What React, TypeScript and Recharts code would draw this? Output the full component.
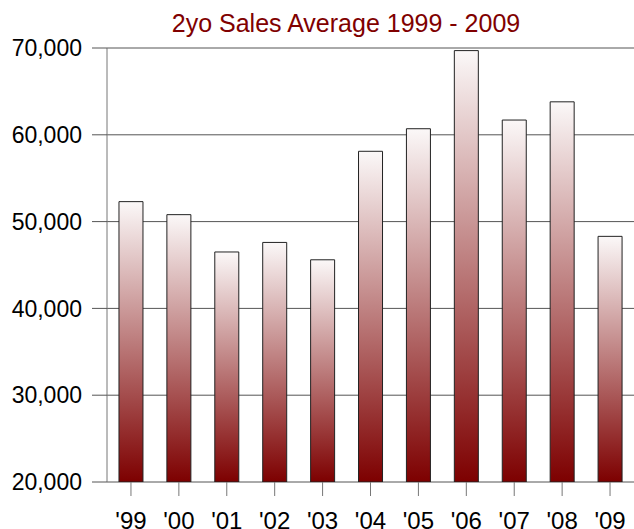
import { BarChart, Bar, XAxis, YAxis, CartesianGrid } from 'recharts';

const years = ["'99", "'00", "'01", "'02", "'03", "'04", "'05", "'06", "'07", "'08", "'09"];
const averages = [52300, 50800, 46500, 47600, 45600, 58100, 60700, 69700, 61700, 63800, 48300];
const yTicks = [20000, 30000, 40000, 50000, 60000, 70000];

const chartData = years.map((year, i) => ({ year, avg: averages[i] }));

const font = '"Liberation Sans", Arial, sans-serif';

export default function App() {
  return (
    <div style={{ position: 'absolute', left: 0, top: 0, width: 634, height: 529, background: '#fff', fontFamily: font }}>
      <div
        style={{
          position: 'absolute',
          top: 9,
          left: 346,
          transform: 'translateX(-50%)',
          whiteSpace: 'nowrap',
          fontSize: 25,
          color: '#800000',
        }}
      >
        2yo Sales Average 1999 - 2009
      </div>
      <BarChart
        width={634}
        height={529}
        data={chartData}
        margin={{ top: 48, right: 0, bottom: 0, left: 0 }}
        barCategoryGap="25%"
      >
        <defs>
          <linearGradient id="barFill" x1="0" y1="0" x2="0" y2="1">
            <stop offset="0%" stopColor="#fbf8f8" />
            <stop offset="100%" stopColor="#7d0000" />
          </linearGradient>
        </defs>
        <CartesianGrid vertical={false} stroke="#555" />
        <XAxis
          dataKey="year"
          height={47}
          axisLine={false}
          tickLine={{ stroke: '#777' }}
          tickSize={14}
          tickMargin={16}
          tick={{ fill: '#000', fontSize: 24, fontFamily: font }}
          interval={0}
        />
        <YAxis
          width={107}
          domain={[20000, 70000]}
          ticks={yTicks}
          allowDataOverflow
          axisLine={{ stroke: '#777' }}
          tickLine={{ stroke: '#555' }}
          tickSize={15}
          tickMargin={10}
          tick={{ fill: '#000', fontSize: 23, fontFamily: font }}
          tickFormatter={(v: number) => v.toLocaleString('en-US')}
        />
        <Bar dataKey="avg" fill="url(#barFill)" stroke="#222" strokeWidth={1} isAnimationActive={false} />
      </BarChart>
    </div>
  );
}
